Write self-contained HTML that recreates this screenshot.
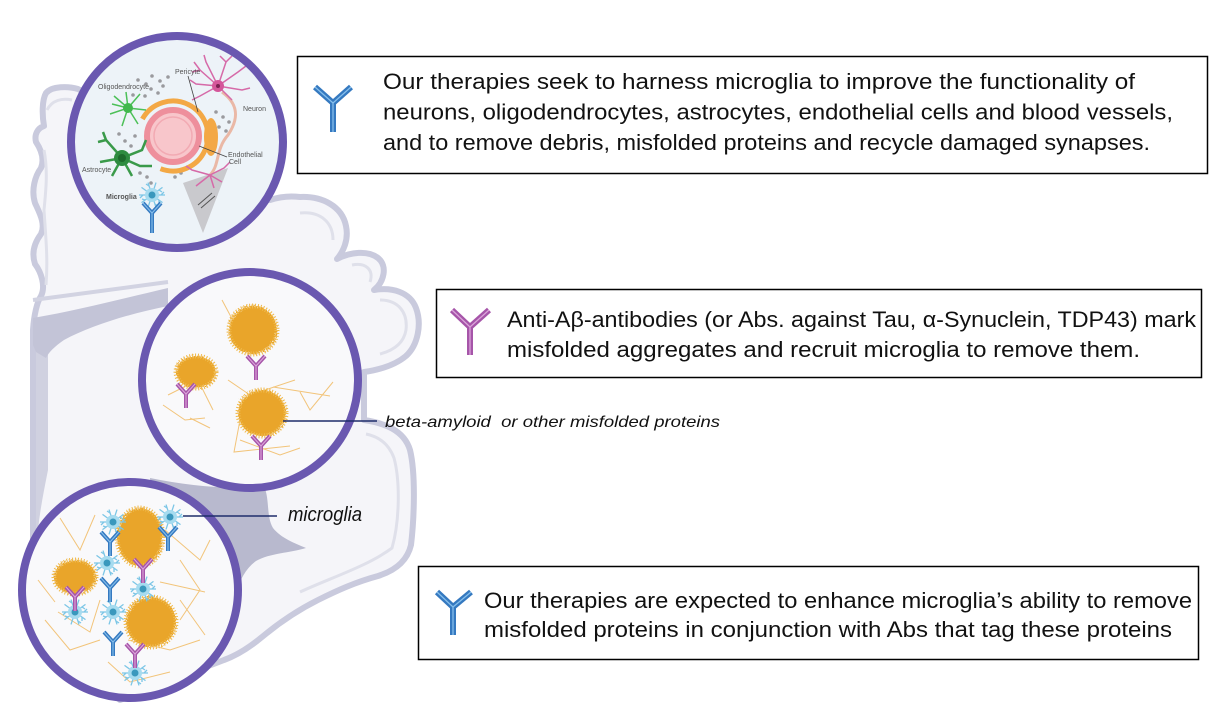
<!DOCTYPE html>
<html>
<head>
<meta charset="utf-8">
<style>
html,body{margin:0;padding:0;background:#fff;}
svg{display:block;}
.t{font-family:"Liberation Sans",Arial,sans-serif;font-size:22px;fill:#111;}
.lab{font-family:"Liberation Sans",Arial,sans-serif;font-style:italic;fill:#111;}
.tiny{font-family:"Liberation Sans",Arial,sans-serif;font-size:7px;fill:#555;}
</style>
</head>
<body>
<svg width="1217" height="710" viewBox="0 0 1217 710" xmlns="http://www.w3.org/2000/svg">
<defs>
  <filter id="fz" x="-30%" y="-30%" width="160%" height="160%">
    <feTurbulence type="fractalNoise" baseFrequency="0.8" numOctaves="2" seed="3"/>
    <feDisplacementMap in="SourceGraphic" scale="7"/>
  </filter>
  <g id="mg">
    <g stroke="#7cc6e6" stroke-width="1.3" fill="none">
      <path d="M0,0 L13,0 M9,0 L12,-3 M0,0 L10.5,7.6 M7,5 L7,9 M0,0 L4,12.4 M3,9 L6,11 M0,0 L-4,12.4 M0,0 L-10.5,7.6 M-7,5 L-10,4 M0,0 L-13,0 M-9,0 L-12,3 M0,0 L-10.5,-7.6 M0,0 L-4,-12.4 M-3,-9 L-6,-11 M0,0 L4,-12.4 M0,0 L10.5,-7.6 M7,-5 L10,-3"/>
    </g>
    <circle r="7" fill="#a6dbef"/>
    <circle r="3.5" fill="#3a98bd"/>
  </g>
  <g id="yb">
    <path d="M-9,-10 L0,0 L9,-10 M0,0 L0,14" stroke="#3579c0" stroke-width="4" fill="none"/>
    <path d="M-9,-10 L0,0 L9,-10 M0,0 L0,14" stroke="#86bfec" stroke-width="1.1" fill="none"/>
  </g>
  <g id="yp">
    <path d="M-9,-10 L0,0 L9,-10 M0,0 L0,14" stroke="#a655a9" stroke-width="4" fill="none"/>
    <path d="M-9,-10 L0,0 L9,-10 M0,0 L0,14" stroke="#dba4da" stroke-width="1.1" fill="none"/>
  </g>
</defs>

<!-- Brain background -->
<path d="M 46,93 C 52,86 68,86 78,89 L 200,150 L 270,200 C 282,196 292,196 300,197 C 322,196 342,206 346,226 C 349,240 343,252 337,259 C 350,252 368,250 378,258 C 388,266 384,282 374,290 C 392,287 410,292 416,308 C 422,324 418,345 406,356 C 394,366 378,370 364,372 L 364,420 C 384,423 404,430 410,450 C 416,475 414,520 411,545 C 407,562 394,571 378,576 C 356,582 338,590 318,600 C 298,610 280,622 262,637 C 250,647 238,655 224,660 L 120,700 L 33,600 L 33,330 C 34,315 37,302 41,296 C 46,286 41,272 35,264 C 31,252 35,242 41,234 C 46,224 39,212 35,203 C 31,190 35,176 41,168 C 45,158 40,148 36,142 C 34,134 38,128 44,126 C 42,115 42,100 46,93 Z" fill="#f5f5f9" stroke="#c9cadd" stroke-width="6" stroke-linejoin="round"/>
<!-- gyri inner lines -->
<g fill="none" stroke="#dfe0ea" stroke-width="3">
  <path d="M300,213 C320,211 333,222 333,240"/>
  <path d="M352,265 C366,262 374,270 370,282"/>
  <path d="M380,300 C398,300 408,312 406,330 C404,342 395,350 380,354"/>
  <path d="M300,592 C330,578 368,566 392,548 C400,520 400,480 394,458 C388,442 376,436 366,434"/>
  <path d="M47,110 C52,100 62,98 72,100"/>
  <path d="M44,150 C48,170 46,190 44,210 C46,240 48,260 46,285"/>
</g>
<!-- shelf + shadows -->
<path d="M33,300 L168,282" stroke="#d2d3e2" stroke-width="4" fill="none"/>
<path d="M 36,340 L 48,345 L 48,470 C 44,490 40,510 38,530 L 36,530 Z" fill="#d0d1e0"/>
<path d="M 33,318 C 80,310 125,298 168,288 L 168,306 C 128,314 90,326 64,340 C 54,347 49,352 46,358 L 36,352 L 33,345 Z" fill="#c3c4d7"/>
<path d="M 150,478 C 190,486 230,490 264,486 C 270,500 266,516 273,528 C 281,538 294,543 306,548 C 290,553 270,553 256,561 C 246,568 240,580 236,592 L 160,580 Z" fill="#b8b9ce"/>

<!-- Circle 1 -->
<circle cx="177" cy="142" r="106" fill="#edf3f8"/>
<g>
  <g fill="#9a9a9e">
    <circle cx="138" cy="80" r="1.8"/><circle cx="146" cy="84" r="1.8"/><circle cx="152" cy="76" r="1.8"/><circle cx="160" cy="81" r="1.8"/><circle cx="168" cy="77" r="1.8"/><circle cx="151" cy="89" r="1.8"/><circle cx="158" cy="93" r="1.8"/><circle cx="163" cy="86" r="1.8"/><circle cx="145" cy="96" r="1.8"/><circle cx="133" cy="95" r="1.8"/><circle cx="125" cy="141" r="1.8"/><circle cx="135" cy="136" r="1.8"/><circle cx="131" cy="146" r="1.8"/><circle cx="119" cy="134" r="1.8"/><circle cx="140" cy="173" r="1.8"/><circle cx="147" cy="177" r="1.8"/><circle cx="151" cy="183" r="1.8"/><circle cx="181" cy="173" r="1.8"/><circle cx="175" cy="177" r="1.8"/><circle cx="197" cy="195" r="1.8"/><circle cx="196" cy="203" r="1.8"/><circle cx="216" cy="112" r="1.8"/><circle cx="223" cy="117" r="1.8"/><circle cx="219" cy="127" r="1.8"/><circle cx="229" cy="122" r="1.8"/><circle cx="226" cy="131" r="1.8"/>
  </g>
  <polygon points="183,183 228,168 203,233" fill="#c9c9cd"/>
  <path d="M198,205 L212,193 M201,208 L215,196" stroke="#555" stroke-width="1"/>
  <circle cx="173" cy="136" r="26" fill="#f8c6cb" stroke="#ee8f9c" stroke-width="6"/>
  <circle cx="173" cy="136" r="19" fill="none" stroke="#f2aab3" stroke-width="1.5"/>
  <path d="M142.4,119 A35 35 0 1 1 160.5,168.7" fill="none" stroke="#f3a845" stroke-width="5"/>
  <ellipse cx="211" cy="137" rx="7" ry="19" fill="#f3a845"/>
  <path d="M222,92 C240,105 238,120 228,135 C215,150 220,165 210,175" fill="none" stroke="#eab8a6" stroke-width="3"/>
  <g stroke="#d66aa8" stroke-width="1.5" fill="none">
    <path d="M218,86 L200,70 L194,62 M200,70 L192,72 M218,86 L206,62 L204,55 M218,86 L226,62 L232,56 M226,62 L220,56 M218,86 L238,72 L246,66 M218,86 L242,90 L250,88 M218,86 L232,100 M218,86 L200,96 L192,100 M218,86 L196,84 L190,80"/>
    <path d="M210,175 L192,170 L186,166 M210,175 L196,186 M210,175 L214,188 M210,175 L224,168 L230,162 M210,175 L222,182"/>
  </g>
  <circle cx="218" cy="86" r="6" fill="#d4569a"/>
  <circle cx="218" cy="86" r="2" fill="#7a1f52"/>
  <g stroke="#4cc058" stroke-width="1.5" fill="none">
    <path d="M128,108 L114,96 M128,108 L126,92 M128,108 L140,94 M128,108 L146,110 M128,108 L138,124 M128,108 L122,126 M128,108 L110,114 M128,108 L112,104"/>
  </g>
  <circle cx="128" cy="108" r="5" fill="#41b84d"/>
  <g stroke="#3a9a4a" stroke-width="2.5" fill="none">
    <path d="M122,158 L106,140 L103,132 M106,140 L98,142 M122,158 L100,162 M122,158 L112,176 M122,158 L132,176 M122,158 L142,150 L146,140 M122,158 L140,166 L152,166"/>
  </g>
  <circle cx="122" cy="158" r="8" fill="#2e8b40"/>
  <circle cx="122" cy="158" r="4" fill="#1d6a2c"/>
  <use href="#mg" x="152" y="195"/>
  <path d="M143,203 L152,213 L161,203 M152,213 L152,233" stroke="#3579c0" stroke-width="4" fill="none"/>
  <path d="M143,203 L152,213 L161,203 M152,213 L152,233" stroke="#86bfec" stroke-width="1.1" fill="none"/>
  <path d="M188,76 L198,112" stroke="#444" stroke-width="0.8"/>
  <path d="M199,146 L227,157" stroke="#444" stroke-width="0.8"/>
  <text class="tiny" x="175" y="74">Pericyte</text>
  <text class="tiny" x="98" y="89">Oligodendrocyte</text>
  <text class="tiny" x="243" y="111">Neuron</text>
  <text class="tiny" x="228" y="157">Endothelial</text>
  <text class="tiny" x="229" y="164">Cell</text>
  <text class="tiny" x="82" y="172">Astrocyte</text>
  <text class="tiny" x="106" y="199" style="font-weight:bold">Microglia</text>
</g>
<circle cx="177" cy="142" r="106" fill="none" stroke="#6a58b0" stroke-width="8"/>

<!-- Circle 2 -->
<circle cx="250" cy="380" r="108" fill="#f9f9fb"/>
<g fill="none" stroke="#f2c47a" stroke-width="1">
  <path d="M168,395 L198,380 L213,410"/>
  <path d="M228,380 L250,395 L295,380"/>
  <path d="M273,387 L330,396"/>
  <path d="M300,392 L310,410 L333,382"/>
  <path d="M240,420 L234,452 L290,446"/>
  <path d="M163,405 L185,420 L205,418"/>
  <path d="M222,300 L238,330"/>
  <path d="M190,418 L210,428"/>
  <path d="M240,440 L280,455 L300,448"/>
</g>
<g filter="url(#fz)">
  <ellipse cx="253" cy="330" rx="24" ry="24" fill="#e9a52c"/>
  <ellipse cx="196" cy="372" rx="20" ry="16" fill="#e9a52c"/>
  <ellipse cx="262" cy="413" rx="24" ry="23" fill="#e9a52c"/>
</g>
<g fill="none" stroke="#f0bb4e" stroke-width="5" stroke-dasharray="1 1.8">
  <ellipse cx="253" cy="330" rx="24" ry="24"/>
  <ellipse cx="196" cy="372" rx="20" ry="16"/>
  <ellipse cx="262" cy="413" rx="24" ry="23"/>
</g>
<use href="#yp" x="256" y="366"/>
<use href="#yp" x="186" y="394"/>
<use href="#yp" x="261" y="446"/>
<circle cx="250" cy="380" r="108" fill="none" stroke="#6a58b0" stroke-width="8"/>

<!-- Circle 3 -->
<circle cx="130" cy="590" r="108" fill="#f9f9fb"/>
<g fill="none" stroke="#f2c47a" stroke-width="1">
  <path d="M60,518 L80,550 L95,515"/>
  <path d="M165,530 L200,560 L210,540"/>
  <path d="M180,560 L200,590 L180,620"/>
  <path d="M58,612 L90,632 L100,600"/>
  <path d="M128,640 L170,650 L200,640"/>
  <path d="M38,580 L55,602"/>
  <path d="M160,582 L205,592"/>
  <path d="M180,600 L205,635"/>
  <path d="M108,662 L130,682 L170,672"/>
  <path d="M45,620 L70,650 L100,640"/>
</g>
<g filter="url(#fz)">
  <ellipse cx="140" cy="537" rx="23" ry="29" fill="#e9a52c"/>
  <ellipse cx="75" cy="577" rx="21" ry="17" fill="#e9a52c"/>
  <ellipse cx="151" cy="622" rx="25" ry="25" fill="#e9a52c"/>
</g>
<g fill="none" stroke="#f0bb4e" stroke-width="5" stroke-dasharray="1 1.8">
  <ellipse cx="140" cy="537" rx="23" ry="29"/>
  <ellipse cx="75" cy="577" rx="21" ry="17"/>
  <ellipse cx="151" cy="622" rx="25" ry="25"/>
</g>
<use href="#mg" x="113" y="522"/>
<use href="#mg" x="170" y="517"/>
<use href="#mg" x="107" y="563"/>
<use href="#mg" x="143" y="589"/>
<use href="#mg" x="75" y="612"/>
<use href="#mg" x="113" y="612"/>
<use href="#mg" x="135" y="673"/>
<use href="#yb" x="110" y="542"/>
<use href="#yb" x="168" y="537"/>
<use href="#yb" x="110" y="588"/>
<use href="#yb" x="113" y="642"/>
<use href="#yp" x="143" y="569"/>
<use href="#yp" x="75" y="597"/>
<use href="#yp" x="135" y="654"/>
<circle cx="130" cy="590" r="108" fill="none" stroke="#6a58b0" stroke-width="8"/>

<!-- label connector lines -->
<path d="M283,421 L377,421" stroke="#1f2d6b" stroke-width="1.5"/>
<path d="M183,516 L277,516" stroke="#1f2d6b" stroke-width="1.5"/>
<text class="lab" x="385" y="427" font-size="16" textLength="335" lengthAdjust="spacingAndGlyphs" style="white-space:pre">beta-amyloid  or other misfolded proteins</text>
<text class="lab" x="288" y="521" font-size="20" textLength="74" lengthAdjust="spacingAndGlyphs">microglia</text>

<!-- Box 1 -->
<rect x="297.5" y="56.5" width="910" height="117" fill="#fff" stroke="#000" stroke-width="1.5"/>
<path d="M315,87 L333,103 L351,87 M333,103 L333,132" stroke="#3579c0" stroke-width="6" fill="none"/>
<path d="M315,87 L333,103 L351,87 M333,103 L333,132" stroke="#86bfec" stroke-width="1.3" fill="none"/>
<text class="t" x="383" y="89" textLength="752" lengthAdjust="spacingAndGlyphs">Our therapies seek to harness microglia to improve the functionality of</text>
<text class="t" x="383" y="119.5" textLength="790" lengthAdjust="spacingAndGlyphs">neurons, oligodendrocytes, astrocytes, endothelial cells and blood vessels,</text>
<text class="t" x="383" y="150" textLength="767" lengthAdjust="spacingAndGlyphs">and to remove debris, misfolded proteins and recycle damaged synapses.</text>

<!-- Box 2 -->
<rect x="436.5" y="289.5" width="765" height="88" fill="#fff" stroke="#000" stroke-width="1.5"/>
<path d="M452,310 L470,327 L489,310 M470,327 L470,355" stroke="#a655a9" stroke-width="6" fill="none"/>
<path d="M452,310 L470,327 L489,310 M470,327 L470,355" stroke="#dba4da" stroke-width="1.3" fill="none"/>
<text class="t" x="507" y="327" textLength="689" lengthAdjust="spacingAndGlyphs">Anti-Aβ-antibodies (or Abs. against Tau, α-Synuclein, TDP43) mark</text>
<text class="t" x="507" y="357" textLength="633" lengthAdjust="spacingAndGlyphs">misfolded aggregates and recruit microglia to remove them.</text>

<!-- Box 3 -->
<rect x="418.5" y="566.5" width="780" height="93" fill="#fff" stroke="#000" stroke-width="1.5"/>
<path d="M437,592 L453,607 L471,592 M453,607 L453,635" stroke="#3579c0" stroke-width="6" fill="none"/>
<path d="M437,592 L453,607 L471,592 M453,607 L453,635" stroke="#86bfec" stroke-width="1.3" fill="none"/>
<text class="t" x="484" y="608" textLength="708" lengthAdjust="spacingAndGlyphs">Our therapies are expected to enhance microglia’s ability to remove</text>
<text class="t" x="484" y="637" textLength="688" lengthAdjust="spacingAndGlyphs">misfolded proteins in conjunction with Abs that tag these proteins</text>
</svg>
</body>
</html>
